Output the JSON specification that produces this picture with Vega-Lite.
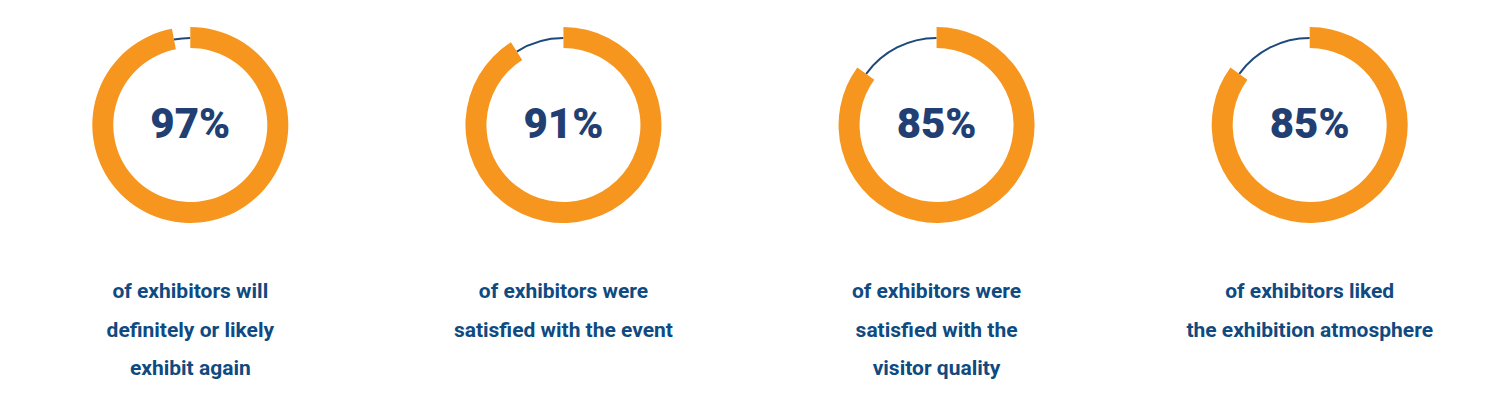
{
  "$schema": "https://vega.github.io/schema/vega-lite/v6.json",
  "padding": 0,
  "spacing": 0,
  "background": "white",
  "config": {"view": {"stroke": null}},
  "datasets": {
    "segments": [
      {"q": "A", "part": "yes", "from": 0, "to": 97},
      {"q": "A", "part": "no", "from": 97, "to": 100},
      {"q": "B", "part": "yes", "from": 0, "to": 91},
      {"q": "B", "part": "no", "from": 91, "to": 100},
      {"q": "C", "part": "yes", "from": 0, "to": 85},
      {"q": "C", "part": "no", "from": 85, "to": 100},
      {"q": "D", "part": "yes", "from": 0, "to": 85},
      {"q": "D", "part": "no", "from": 85, "to": 100}
    ],
    "stats": [
      {"q": "A", "label": "97%", "caption": ["of exhibitors will", "definitely or likely", "exhibit again"]},
      {"q": "B", "label": "91%", "caption": ["of exhibitors were", "satisfied with the event"]},
      {"q": "C", "label": "85%", "caption": ["of exhibitors were", "satisfied with the", "visitor quality"]},
      {"q": "D", "label": "85%", "caption": ["of exhibitors liked", "the exhibition atmosphere"]}
    ]
  },
  "vconcat": [
    {
      "width": 1500,
      "height": 250,
      "layer": [
        {
          "data": {"name": "segments"},
          "transform": [{"filter": "datum.part === 'no'"}],
          "mark": {"type": "arc", "radius": 88, "radius2": 86, "color": "#1d4a7a"},
          "encoding": {
            "x": {"field": "q", "type": "nominal", "sort": ["A", "B", "C", "D"], "axis": null, "scale": {"type": "point", "padding": 0.51}},
            "theta": {"field": "from", "type": "quantitative", "stack": null, "scale": {"domain": [0, 100], "range": [0, 6.283185307179586]}},
            "theta2": {"field": "to"}
          }
        },
        {
          "data": {"name": "segments"},
          "transform": [{"filter": "datum.part === 'yes'"}],
          "mark": {"type": "arc", "radius": 98, "radius2": 77, "color": "#F6961F"},
          "encoding": {
            "x": {"field": "q", "type": "nominal", "sort": ["A", "B", "C", "D"], "axis": null, "scale": {"type": "point", "padding": 0.51}},
            "theta": {"field": "from", "type": "quantitative", "stack": null, "scale": {"domain": [0, 100], "range": [0, 6.283185307179586]}},
            "theta2": {"field": "to"}
          }
        },
        {
          "data": {"name": "stats"},
          "mark": {"type": "text", "font": "Roboto", "fontWeight": 900, "fontSize": 42, "color": "#213f72", "baseline": "middle", "align": "center"},
          "encoding": {
            "x": {"field": "q", "type": "nominal", "sort": ["A", "B", "C", "D"], "axis": null, "scale": {"type": "point", "padding": 0.51}},
            "text": {"field": "label", "type": "nominal"}
          }
        }
      ]
    },
    {
      "width": 1500,
      "height": 62,
      "data": {"name": "stats"},
      "mark": {"type": "text", "font": "Roboto", "fontWeight": "bold", "fontSize": 21, "lineHeight": 38.5, "color": "#0f4a80", "baseline": "top", "align": "center"},
      "encoding": {
        "x": {"field": "q", "type": "nominal", "sort": ["A", "B", "C", "D"], "axis": null, "scale": {"type": "point", "padding": 0.51}},
        "text": {"field": "caption", "type": "nominal"}
      }
    }
  ]
}
